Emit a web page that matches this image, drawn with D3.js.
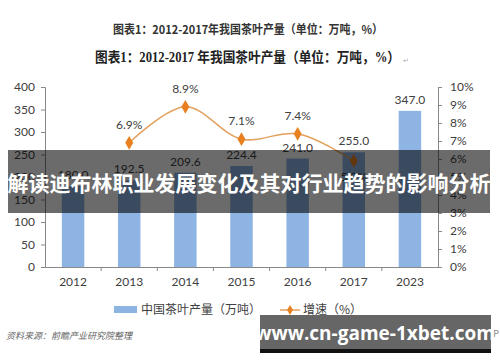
<!DOCTYPE html>
<html>
<head>
<meta charset="utf-8">
<script src="https://cdn.jsdelivr.net/npm/d3@7"></script>
<style>
  body { margin: 0; background: #fff; }
  svg { display: block; font-family: Lato, "Noto Sans CJK SC", sans-serif; }
</style>
</head>
<body>
<div id="graf"></div>
<script>
const years = ["2012", "2013", "2014", "2015", "2016", "2017", "2023"]
const output = [180.0, 192.5, 209.6, 224.4, 241.0, 255.0, 347.0]
const growth = [null, 6.9, 8.9, 7.1, 7.4, 5.9, null]
const leftTicks = [0, 50, 100, 150, 200, 250, 300, 350, 400]
const rightTicks = [0, 1, 2, 3, 4, 5, 6, 7, 8, 9, 10]

const W = 500, H = 362
const margins = { top: 87, right: 62, bottom: 95, left: 45 }
const ancho = W - margins.left - margins.right
const alto = H - margins.top - margins.bottom

const svg = d3.select("#graf").append("svg").attr("width", W).attr("height", H)

// titles
svg.append("text").attr("x", 113).attr("y", 34)
  .attr("font-family", "'Noto Sans CJK SC', sans-serif").attr("font-weight", "bold")
  .attr("font-size", 12).attr("fill", "#333")
  .attr("textLength", 270).attr("lengthAdjust", "spacingAndGlyphs")
  .text("图表1：2012-2017年我国茶叶产量（单位：万吨，%）")
svg.append("text").attr("x", 95).attr("y", 62)
  .attr("font-family", "'Liberation Serif', 'Noto Sans CJK SC', serif").attr("font-weight", "bold")
  .attr("font-size", 14).attr("fill", "#222")
  .attr("textLength", 305).attr("lengthAdjust", "spacingAndGlyphs")
  .text("图表1：2012-2017 年我国茶叶产量（单位：万吨，%）")
svg.append("text").attr("x", 403).attr("y", 63).attr("font-size", 7).attr("fill", "#aaa").text("↵")

const g = svg.append("g").attr("transform", `translate(${margins.left}, ${margins.top})`)

const x = d3.scaleBand().domain(years).range([0, ancho]).paddingInner(0.6).paddingOuter(0.3)
const y = d3.scaleLinear().domain([0, 400]).range([alto, 0])
const y2 = d3.scaleLinear().domain([0, 10]).range([alto, 0])

// bars
g.selectAll("rect.bar").data(output).enter().append("rect")
  .attr("class", "bar")
  .attr("x", (d, i) => x(years[i]))
  .attr("y", (d) => y(d))
  .attr("width", x.bandwidth())
  .attr("height", (d) => alto - y(d))
  .attr("fill", "#8db4e3")

g.selectAll("text.bl").data(output).enter().append("text")
  .attr("class", "bl")
  .attr("x", (d, i) => x(years[i]) + x.bandwidth() / 2)
  .attr("y", (d) => y(d) - 7)
  .attr("text-anchor", "middle").attr("font-size", 12).attr("fill", "#404040")
  .text((d) => d.toFixed(1))

// axes
const axL = g.append("g").call(d3.axisLeft(y).tickValues(leftTicks).tickSize(4).tickPadding(6))
const axR = g.append("g").attr("transform", `translate(${ancho},0)`)
  .call(d3.axisRight(y2).tickValues(rightTicks).tickSize(4).tickPadding(8).tickFormat((d) => d + "%"))
;[axL, axR].forEach((a) => {
  a.select(".domain").attr("stroke", "#888")
  a.selectAll(".tick line").attr("stroke", "#888")
  a.selectAll(".tick text").attr("font-size", 12).attr("fill", "#404040").attr("font-family", "Lato, sans-serif")
})

const axB = g.append("g").attr("transform", `translate(0,${alto})`)
  .call(d3.axisBottom(x).tickSize(0).tickPadding(10))
axB.select(".domain").attr("stroke", "#888")
axB.selectAll(".tick text").attr("font-size", 12).attr("fill", "#404040").attr("font-family", "Lato, sans-serif")
axB.selectAll("line.sep").data(years.slice(1)).enter().append("line")
  .attr("class", "sep")
  .attr("x1", (d) => x(d) - x.step() * x.paddingInner() / 2)
  .attr("x2", (d) => x(d) - x.step() * x.paddingInner() / 2)
  .attr("y1", 0).attr("y2", 4).attr("stroke", "#888")

// growth line
const pts = growth.map((v, i) => ({ yr: years[i], v })).filter((d) => d.v != null)
const line = d3.line()
  .x((d) => x(d.yr) + x.bandwidth() / 2)
  .y((d) => y2(d.v))
  .curve(d3.curveCatmullRom.alpha(0.5))
g.append("path").datum(pts).attr("d", line).attr("fill", "none")
  .attr("stroke", "#e3a05c").attr("stroke-width", 1.5)
g.selectAll("path.mk").data(pts).enter().append("path")
  .attr("class", "mk")
  .attr("d", d3.symbol(d3.symbolDiamond, 55))
  .attr("transform", (d) => `translate(${x(d.yr) + x.bandwidth() / 2},${y2(d.v)})`)
  .attr("fill", "#e8801f")
// the last point's label sits below its marker
g.selectAll("text.gl").data(pts).enter().append("text")
  .attr("class", "gl")
  .attr("x", (d) => x(d.yr) + x.bandwidth() / 2)
  .attr("y", (d, i) => i === pts.length - 1 ? y2(d.v) + 20 : y2(d.v) - 14)
  .attr("text-anchor", "middle").attr("font-size", 12).attr("fill", "#404040")
  .text((d) => d.v.toFixed(1) + "%")

// legend
const lg = svg.append("g").attr("transform", "translate(114,310)")
lg.append("rect").attr("x", 0).attr("y", -4).attr("width", 23).attr("height", 7).attr("fill", "#8db4e3")
lg.append("text").attr("x", 27).attr("y", 4).attr("font-size", 12).attr("fill", "#404040")
  .attr("font-family", "'Noto Sans CJK SC', sans-serif").text("中国茶叶产量（万吨）")
lg.append("line").attr("x1", 166).attr("x2", 186).attr("y1", 0).attr("y2", 0)
  .attr("stroke", "#e3a05c").attr("stroke-width", 1.5)
lg.append("path").attr("d", d3.symbol(d3.symbolDiamond, 30)).attr("transform", "translate(176,0)").attr("fill", "#e8801f")
lg.append("text").attr("x", 189).attr("y", 4).attr("font-size", 12).attr("fill", "#404040")
  .attr("font-family", "'Noto Sans CJK SC', sans-serif").text("增速（%）")

// source
svg.append("text").attr("x", 6).attr("y", 339).attr("font-size", 9).attr("font-style", "italic")
  .attr("fill", "#666").attr("font-family", "'Noto Sans CJK SC', sans-serif")
  .text("资料来源：前瞻产业研究院整理")
svg.append("text").attr("x", 499).attr("y", 337).attr("text-anchor", "end").attr("font-size", 9)
  .attr("fill", "#888").attr("font-family", "'Noto Sans CJK SC', sans-serif")
  .text("前瞻经济学人APP")

// overlay banner
svg.append("rect").attr("x", 8).attr("y", 150).attr("width", 482).attr("height", 63)
  .attr("fill", "#000").attr("fill-opacity", 0.58)
svg.append("text").attr("x", 249).attr("y", 191).attr("text-anchor", "middle")
  .attr("font-family", "'Noto Sans CJK SC', sans-serif").attr("font-weight", "bold")
  .attr("font-size", 21).attr("fill", "#fff")
  .text("解读迪布林职业发展变化及其对行业趋势的影响分析")

// url banner
svg.append("rect").attr("x", 260).attr("y", 315).attr("width", 231).attr("height", 38).attr("fill", "#111")
svg.append("rect").attr("x", 260).attr("y", 315).attr("width", 231).attr("height", 34).attr("fill", "#666")
svg.append("text").attr("x", 375).attr("y", 340).attr("text-anchor", "middle")
  .attr("font-family", "'Open Sans', sans-serif").attr("font-weight", "bold")
  .attr("font-size", 19).attr("fill", "#fff")
  .text("www.cn-game-1xbet.com")
</script>
</body>
</html>
